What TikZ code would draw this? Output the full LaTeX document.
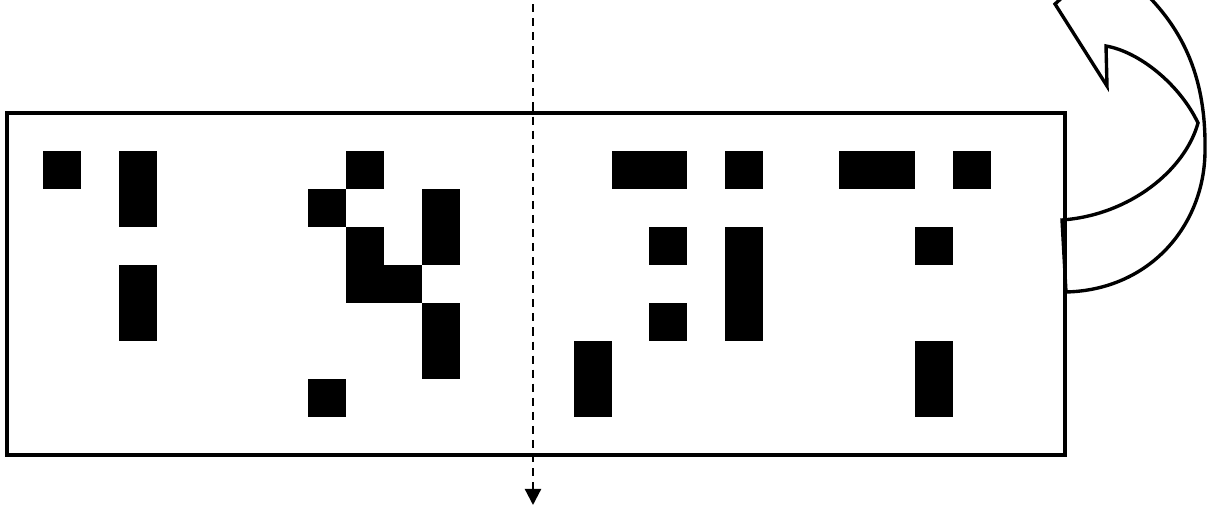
\documentclass[tikz,border=0pt]{standalone}
\usetikzlibrary{arrows.meta}

\begin{document}
\begin{tikzpicture}[x=0.025cm, y=-0.025cm,
    cell/.style={fill=black},
    band/.style={line width=2.4pt, line join=miter},
    cut/.style={line width=1.6pt, dash pattern=on 5.7pt off 4.3pt,
      -{Triangle[width=11.5pt, length=11.5pt]}}]
        \useasboundingbox (0,0) rectangle (1210,510);
        \clip (0,0) rectangle (1210,510);
        % Frame
        \draw[line width=2.4pt] (7,113) rectangle (1065,455);
        % Cells (column/row/width/height)
        \foreach \c/\r/\w/\h in {0/0/1/1, 2/0/1/2, 2/3/1/2, 7/1/1/1, 8/0/1/1,
            8/2/1/2, 9/3/1/1, 10/1/1/2, 10/4/1/2, 7/6/1/1,
            15/0/2/1, 18/0/1/1, 21/0/2/1, 24/0/1/1, 16/2/1/1,
            18/2/1/3, 23/2/1/1, 16/4/1/1, 14/5/1/2, 23/5/1/2}
          \fill[cell] ({43+37.9*\c},{151+38*\r}) rectangle ++({37.9*\w},{38*\h});
        % Cut line
        \coordinate (cuttop) at (533,-10);
        \coordinate (cutend) at (533,505);
        \draw[cut] (cuttop) -- (cutend);
        % Turn arrow
        \draw[band] (1062,220) .. controls (1130,215) and (1185,170) .. (1198,123)
          .. controls (1180,85) and (1140,52) .. (1106,46)
          -- (1107,86) -- (1055,4) -- (1106,-42) -- (1140,-12)
          .. controls (1185,30) and (1206,80) .. (1205,150)
          .. controls (1205,225) and (1150,290) .. (1066,292) -- cycle;
    \end{tikzpicture}
\end{document}
